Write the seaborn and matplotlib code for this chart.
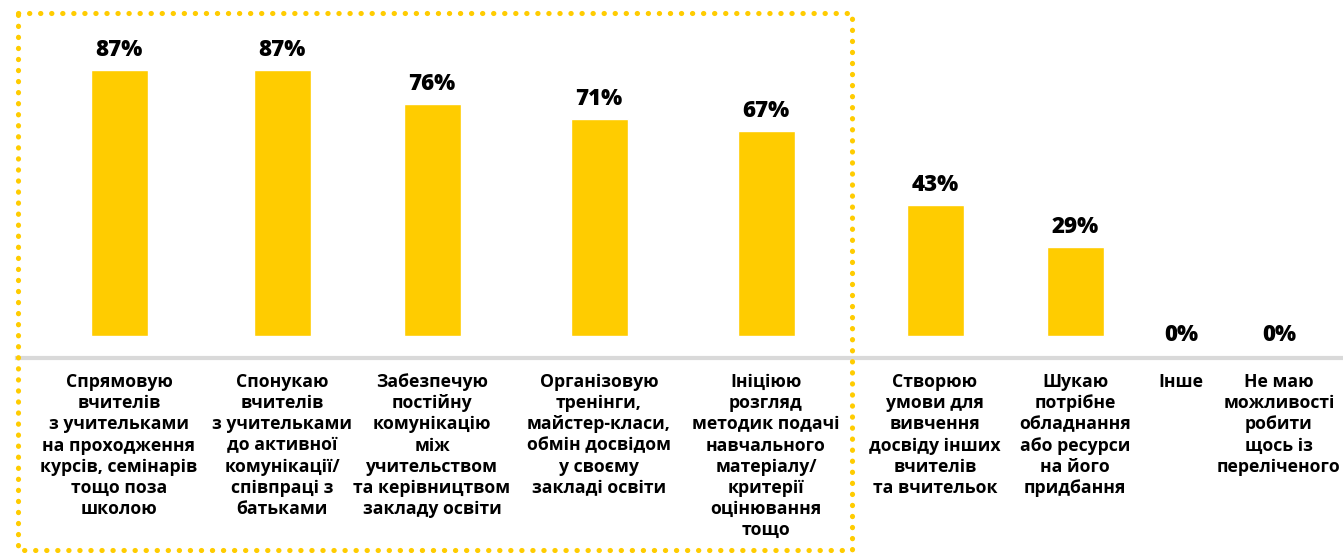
import matplotlib
matplotlib.use("Agg")
import matplotlib.pyplot as plt
import seaborn as sns
import pandas as pd
from matplotlib.lines import Line2D

categories = [
    "Спрямовую\nвчителів\nз учительками\nна проходження\nкурсів, семінарів\nтощо поза\nшколою",
    "Спонукаю\nвчителів\nз учительками\nдо активної\nкомунікації/\nспівпраці з\nбатьками",
    "Забезпечую\nпостійну\nкомунікацію\nміж\nучительством\nта керівництвом\nзакладу освіти",
    "Організовую\nтренінги,\nмайстер-класи,\nобмін досвідом\nу своєму\nзакладі освіти",
    "Ініціюю\nрозгляд\nметодик подачі\nнавчального\nматеріалу/\nкритерії\nоцінювання\nтощо",
    "Створюю\nумови для\nвивчення\nдосвіду інших\nвчителів\nта вчительок",
    "Шукаю\nпотрібне\nобладнання\nабо ресурси\nна його\nпридбання",
    "Інше",
    "Не маю\nможливості\nробити\nщось із\nпереліченого",
]
values = [87, 87, 76, 71, 67, 43, 29, 0, 0]

# layout: column centres (in pixels across the 1343 px wide figure)
x_centres = [119, 282, 432, 599, 766, 935, 1075, 1181, 1279]

YELLOW = "#FFCC00"
W, H = 1343, 553

sns.set_theme(style="white")
plt.rcParams["font.family"] = ["Open Sans", "DejaVu Sans"]

fig = plt.figure(figsize=(W / 100, H / 100), dpi=100)
ax = fig.add_axes([0, 0, 1, 1])

df = pd.DataFrame({"x": x_centres, "value": values})
sns.barplot(data=df, x="x", y="value", native_scale=True, color=YELLOW,
            saturation=1, width=57 / 98, ax=ax)

px_per_unit = 266 / 87.0
base_px = 336
ax.set_xlim(0, W)
ax.set_ylim(-(H - base_px) / px_per_unit, base_px / px_per_unit)

for x, v in zip(x_centres, values):
    if v > 0:
        y = v + 14 / px_per_unit
    else:
        y = -5 / px_per_unit
    ax.text(x, y, f"{v}%", ha="center", va="baseline", fontsize=16,
            fontweight="heavy", color="black")

for s in ["top", "left", "right"]:
    ax.spines[s].set_visible(False)
ax.spines["bottom"].set_position(("data", -22 / px_per_unit))
ax.spines["bottom"].set_color("#D9D9D9")
ax.spines["bottom"].set_linewidth(3)
ax.spines["bottom"].set_bounds(17, W)
ax.set_yticks([])
ax.set_xticks(x_centres)
ax.set_xticklabels(categories, fontsize=12.7, fontweight="bold",
                   linespacing=1.22, ha="center", color="black")
ax.tick_params(axis="x", length=0, pad=11)
ax.set_xlabel("")
ax.set_ylabel("")

# dotted frame around the first five categories
x0, x1 = 18 / W, 852 / W
y0, y1 = 1 - 550 / H, 1 - 13 / H
frame = Line2D([x0, x1, x1, x0, x0], [y1, y1, y0, y0, y1],
               transform=fig.transFigure, color=YELLOW, linewidth=3.7,
               linestyle=(0, (0.05, 2.1)), dash_capstyle="round",
               solid_capstyle="round")
fig.add_artist(frame)

fig.savefig("out.png", dpi=100)
